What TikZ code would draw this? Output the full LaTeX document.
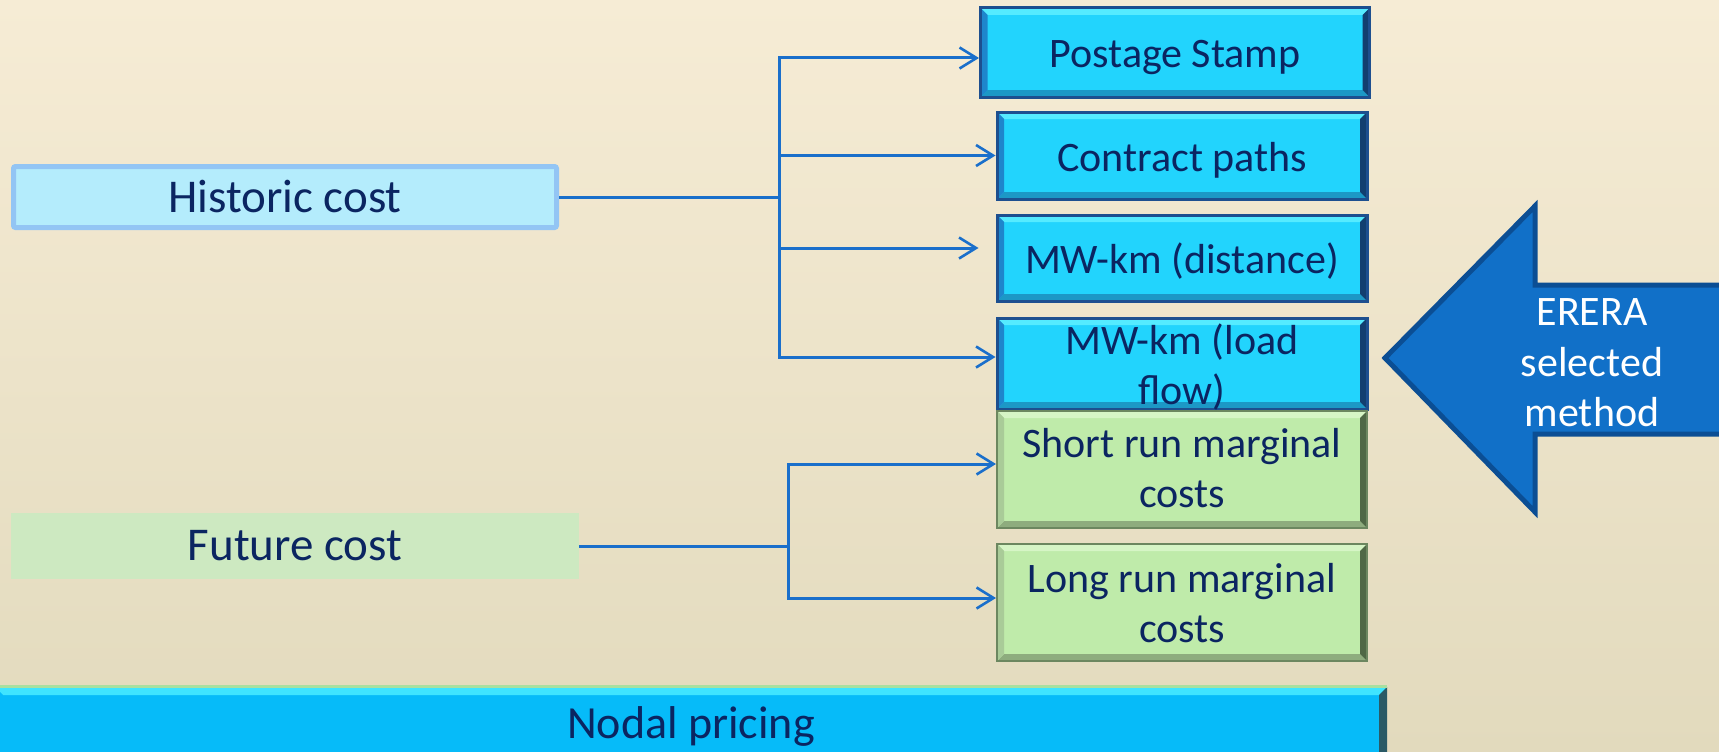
\documentclass[tikz,border=0pt]{standalone}
\usepackage{fontspec}
\setmainfont{Carlito}
\usetikzlibrary{arrows.meta}
\definecolor{bgtop}{HTML}{F6ECD5}
\definecolor{bgbot}{HTML}{E2DABD}
\definecolor{txt}{HTML}{0B2561}
\definecolor{cyanfill}{HTML}{22D4FD}
\definecolor{cyantop}{HTML}{55EBFF}
\definecolor{cyanbot}{HTML}{1C98C6}
\definecolor{cyanleft}{HTML}{1E86CC}
\definecolor{cyanright}{HTML}{123F70}
\definecolor{cyanline}{HTML}{1D4F8F}
\definecolor{grfill}{HTML}{BFEBAA}
\definecolor{grtop}{HTML}{D6F5C6}
\definecolor{grbot}{HTML}{8EAC7E}
\definecolor{grleft}{HTML}{A9CB98}
\definecolor{grright}{HTML}{4F6846}
\definecolor{grline}{HTML}{6C8760}
\definecolor{npfill}{HTML}{06BBF9}
\definecolor{nptop}{HTML}{3FE4FF}
\definecolor{npbot}{HTML}{1A8EC2}
\definecolor{npright}{HTML}{2A5A66}
\definecolor{npstripe}{HTML}{A8E0A0}
\definecolor{hcfill}{HTML}{B4ECFC}
\definecolor{hcline}{HTML}{93C5F4}
\definecolor{fcfill}{HTML}{CDE9C1}
\definecolor{connc}{HTML}{1A6FCB}
\definecolor{arrfill}{HTML}{1170C8}
\definecolor{arrline}{HTML}{0B4E94}
\newcommand{\firstl}[1]{\rule{0pt}{#1}}
\newcommand{\lastl}[1]{\rule[-#1]{0pt}{0pt}}
\tikzset{
  bevel/.style n args={5}{path picture={
    \coordinate (bnw) at (path picture bounding box.north west);
    \coordinate (bne) at (path picture bounding box.north east);
    \coordinate (bsw) at (path picture bounding box.south west);
    \coordinate (bse) at (path picture bounding box.south east);
    \fill[#1] (bnw) -- (bne) -- ([shift={(-#5,-#5)}]bne) -- ([shift={(#5,-#5)}]bnw) -- cycle;
    \fill[#2] (bsw) -- (bse) -- ([shift={(-#5,#5)}]bse) -- ([shift={(#5,#5)}]bsw) -- cycle;
    \fill[#3] (bnw) -- (bsw) -- ([shift={(#5,#5)}]bsw) -- ([shift={(#5,-#5)}]bnw) -- cycle;
    \fill[#4] (bne) -- (bse) -- ([shift={(-#5,#5)}]bse) -- ([shift={(-#5,-#5)}]bne) -- cycle;
  }},
  basebox/.style={rectangle, inner sep=0pt, align=center, text=txt},
  rightfont/.style={font=\fontsize{42}{50}\selectfont},
  leftfont/.style={font=\fontsize{47}{56}\selectfont},
  oneline/.style={text height=36pt, text depth=5pt},
  cyanbox/.style={basebox, rightfont, fill=cyanfill, draw=cyanline, line width=3pt,
    bevel={cyantop}{cyanbot}{cyanleft}{cyanright}{7pt}, minimum width=370pt},
  greenbox/.style={basebox, rightfont, fill=grfill, draw=grline, line width=2pt,
    bevel={grtop}{grbot}{grleft}{grright}{7pt}, minimum width=370pt},
  conn/.style={draw=connc, line width=3pt},
  tip/.style={-{Straight Barb[length=17pt,width=21pt,line width=2.6pt]}},
}
\begin{document}
\begin{tikzpicture}[x=1pt,y=-1pt]
\useasboundingbox (0,0) rectangle (1719,752);
\shade[top color=bgtop, bottom color=bgbot] (0,0) rectangle (1719,752);

% right-hand method boxes
\node[cyanbox, oneline, minimum width=389pt, minimum height=89pt] (ps) at (1175,52.5) {Postage Stamp};
\node[cyanbox, oneline, minimum height=87pt] (cp) at (1182,155.5) {Contract paths};
\node[cyanbox, oneline, minimum height=86pt] (mwd) at (1182,258) {MW-km (distance)};
\node[cyanbox, minimum height=91pt] (mwl) at (1182,363.5) {\firstl{36pt}MW-km (load\\\smash{flow)}\lastl{5pt}};
\node[greenbox, minimum height=117pt] (sr) at (1182,469.5) {\firstl{34pt}Short run marginal\\costs\lastl{9pt}};
\node[greenbox, minimum height=117pt] (lr) at (1182,602.5) {\firstl{38pt}Long run marginal\\costs\lastl{9pt}};

% left-hand category boxes
\node[basebox, leftfont, fill=hcfill, draw=hcline, line width=5pt, rounded corners=2pt,
      minimum width=543pt, minimum height=61pt] (hc) at (285,197) {Historic cost};
\node[basebox, leftfont, fill=fcfill, minimum width=568pt, minimum height=66pt] (fc) at (295,546) {Future cost};

% nodal pricing bar
\node[basebox, font=\fontsize{46}{55}\selectfont, fill=npfill,
      bevel={nptop}{npbot}{npfill}{npright}{8pt},
      minimum width=1392pt, minimum height=78pt] (np) at (691,726) {Nodal pricing};
\draw[npstripe, line width=3pt] (np.north west) -- (np.north east);

% connectors
\coordinate (j1) at (779,197);
\coordinate (j2) at (788,546);
\draw[conn] (hc.east) -- (j1);
\draw[conn, tip] (j1) |- ([yshift=-5.5pt]ps.west);
\draw[conn, tip] (j1) |- (cp.west);
\draw[conn, tip] (j1) |- ([xshift=-17pt,yshift=10pt]mwd.west);
\draw[conn, tip] (j1) |- ([yshift=6.5pt]mwl.west);
\draw[conn] (fc.east) -- (j2);
\draw[conn, tip] (j2) |- ([yshift=5.5pt]sr.west);
\draw[conn, tip] (j2) |- ([yshift=4.5pt]lr.west);

% ERERA block arrow
\draw[line width=5pt, draw=arrline, fill=arrfill, line join=miter]
  (1385,358) -- (1535,206) -- (1535,285) -- (1730,285) -- (1730,434) -- (1535,434) -- (1535,512) -- cycle;
\node[text=white, font=\fontsize{42}{50.5}\selectfont, align=center] (erera) at (1592,363) {ERERA\\selected\\method};
\end{tikzpicture}
\end{document}
